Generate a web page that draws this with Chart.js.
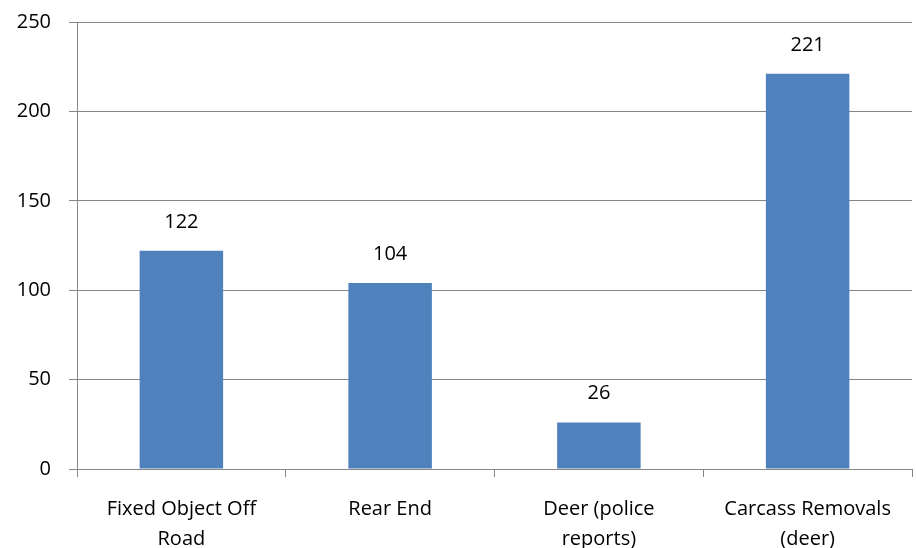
<!DOCTYPE html>
<html>
<head>
<meta charset="utf-8">
<script src="https://cdn.jsdelivr.net/npm/chart.js@4"></script>
<style>
  html, body { margin: 0; padding: 0; background: #fff; }
  #wrap { width: 916px; height: 548px; }
</style>
</head>
<body>
<div id="wrap"><canvas id="chart" width="916" height="548"></canvas></div>
<script>
const categories = [['Fixed Object Off', 'Road'], 'Rear End', ['Deer (police', 'reports)'], ['Carcass Removals', '(deer)']];
const counts = [122, 104, 26, 221];
const yTicks = [0, 50, 100, 150, 200, 250];

const fontFamily = "'Open Sans', 'Liberation Sans', sans-serif";
const fontSize = 20;
const gridColor = '#868686';

// draws the value above each bar, positioned from the bar element itself
const valueLabels = {
    id: 'valueLabels',
    afterDatasetsDraw(chart) {
        const ctx = chart.ctx;
        const meta = chart.getDatasetMeta(0);
        ctx.save();
        ctx.font = fontSize + 'px ' + fontFamily;
        ctx.fillStyle = '#000';
        ctx.textAlign = 'center';
        ctx.textBaseline = 'middle';
        meta.data.forEach((bar, i) => {
            ctx.fillText(String(counts[i]), bar.x, bar.y - 29);
        });
        ctx.restore();
    }
};

new Chart(document.getElementById('chart'), {
    type: 'bar',
    data: {
        labels: categories,
        datasets: [{
            data: counts,
            backgroundColor: '#4F81BD',
            barPercentage: 0.4,
            categoryPercentage: 1.0
        }]
    },
    options: {
        responsive: false,
        animation: false,
        layout: { padding: { top: 22, right: 4, left: 0, bottom: 0 } },
        plugins: {
            legend: { display: false },
            tooltip: { enabled: false }
        },
        scales: {
            x: {
                grid: {
                    offset: true,
                    drawOnChartArea: false,
                    tickLength: 8,
                    color: gridColor
                },
                border: { color: gridColor, width: 1 },
                ticks: {
                    color: '#000',
                    font: { family: fontFamily, size: fontSize, lineHeight: 1.5 },
                    maxRotation: 0,
                    autoSkip: false,
                    padding: 17
                },
                afterFit(scale) {
                    scale.height = 79;
                    scale.paddingLeft = 0;
                    scale.paddingRight = 0;
                }
            },
            y: {
                min: 0,
                max: 250,
                afterBuildTicks(scale) { scale.ticks = yTicks.map(v => ({ value: v })); },
                grid: {
                    color: gridColor,
                    tickLength: 8
                },
                border: { color: gridColor, width: 1 },
                ticks: {
                    color: '#000',
                    font: { family: fontFamily, size: fontSize },
                    padding: 18
                },
                afterFit(scale) {
                    scale.width = 77;
                    scale.paddingTop = 0;
                    scale.paddingBottom = 0;
                }
            }
        }
    },
    plugins: [valueLabels]
});
</script>
</body>
</html>
